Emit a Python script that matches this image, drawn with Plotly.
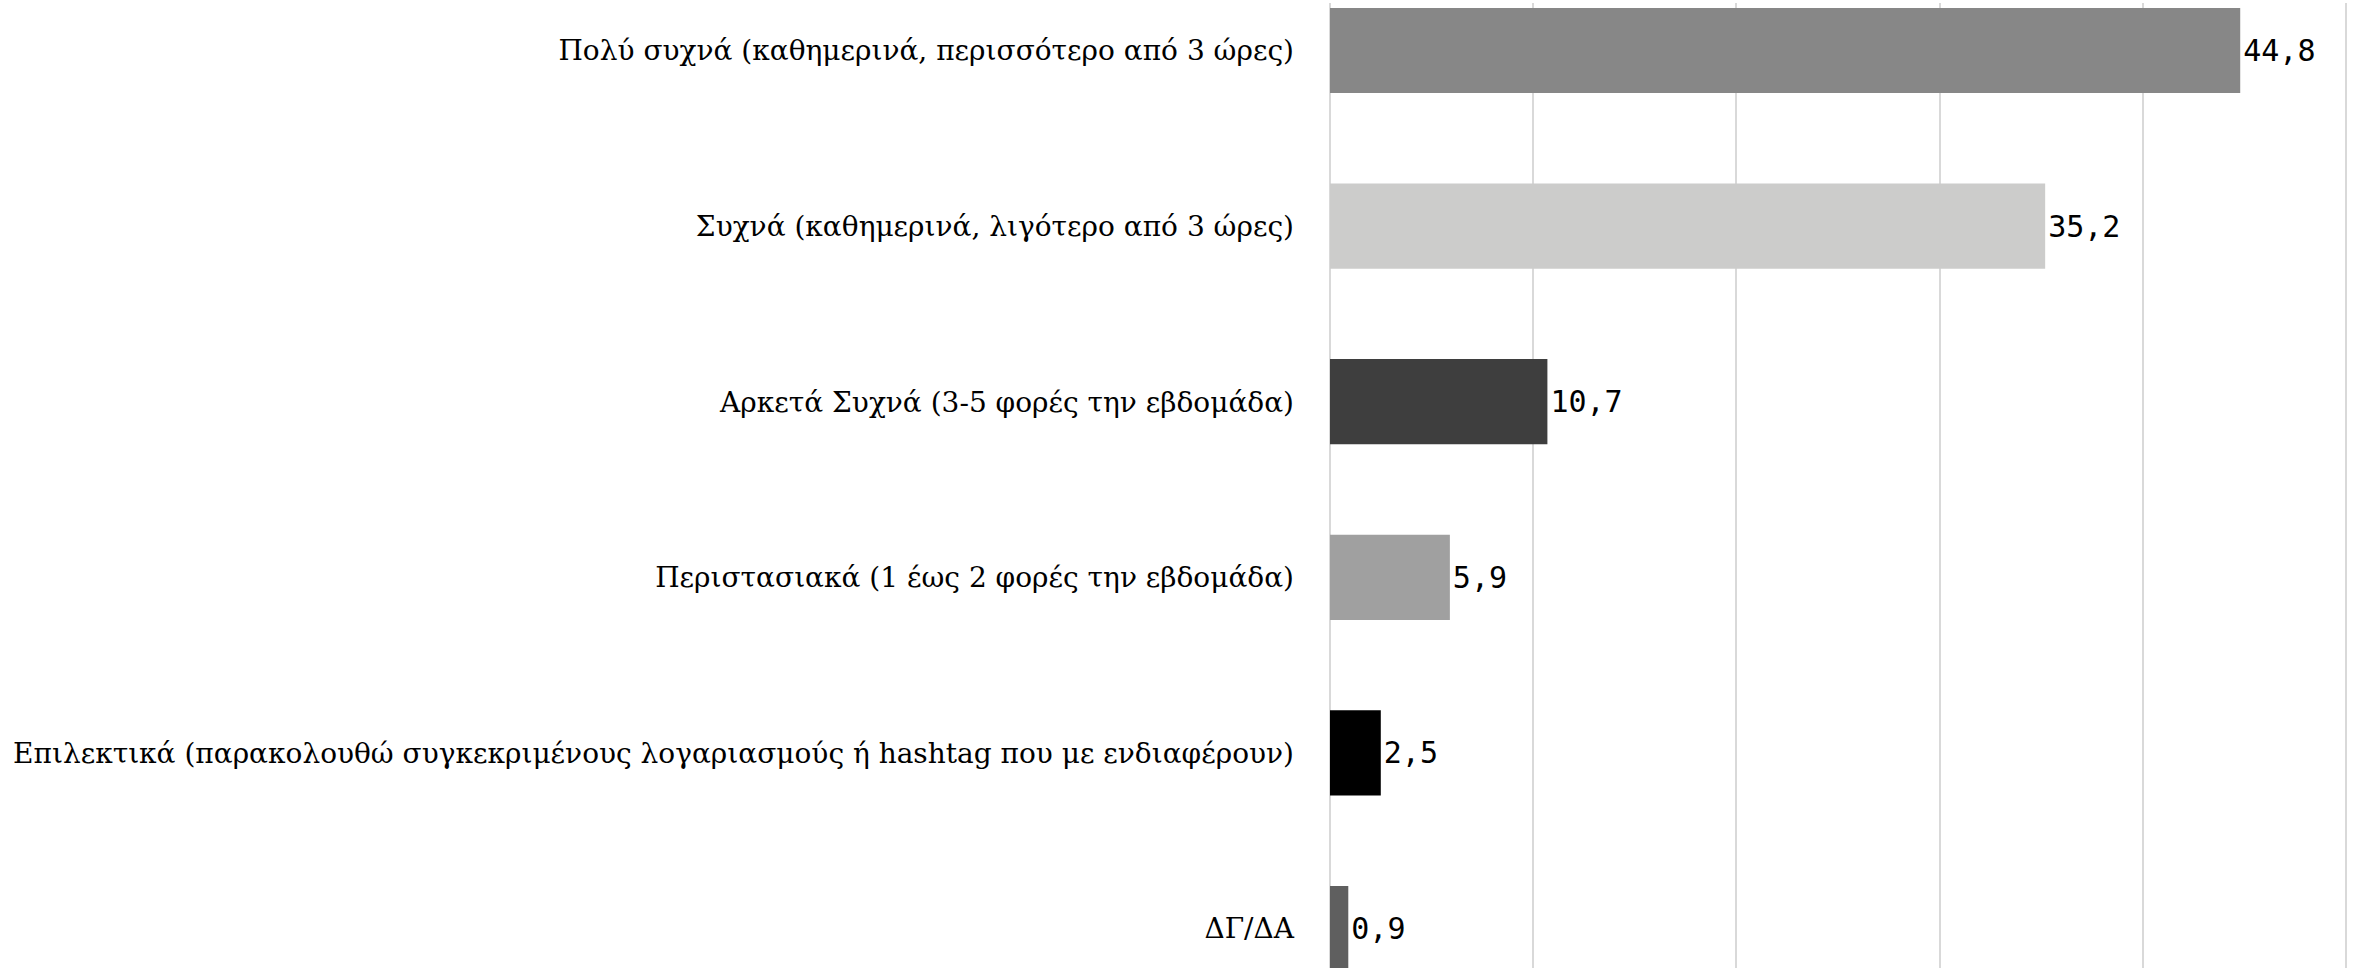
import plotly.graph_objects as go

categories = [
    "Πολύ συχνά (καθημερινά, περισσότερο από 3 ώρες)",
    "Συχνά (καθημερινά, λιγότερο από 3 ώρες)",
    "Αρκετά Συχνά (3-5 φορές την εβδομάδα)",
    "Περιστασιακά (1 έως 2 φορές την εβδομάδα)",
    "Επιλεκτικά (παρακολουθώ συγκεκριμένους λογαριασμούς ή hashtag που με ενδιαφέρουν)",
    "ΔΓ/ΔΑ",
]
values = [44.8, 35.2, 10.7, 5.9, 2.5, 0.9]
colors = ["#878787", "#cccccb", "#3e3e3e", "#a0a0a0", "#000000", "#5f5f5f"]
labels = [f"{v:.1f}".replace(".", ",") for v in values]

fig = go.Figure(
    go.Bar(
        x=values,
        y=categories,
        orientation="h",
        marker=dict(color=colors, line=dict(width=0)),
        width=0.485,
        text=labels,
        textposition="outside",
        textfont=dict(family="DejaVu Sans Mono", size=30, color="#000000"),
        cliponaxis=False,
        hoverinfo="skip",
    )
)

fig.update_layout(
    width=2354,
    height=968,
    margin=dict(l=1330, r=0, t=3, b=0, autoexpand=False),
    paper_bgcolor="white",
    plot_bgcolor="white",
    showlegend=False,
    xaxis=dict(
        range=[0, 50.4],
        dtick=10,
        tick0=0,
        showgrid=True,
        gridcolor="#d9d9d9",
        gridwidth=2,
        zeroline=True,
        zerolinecolor="#d9d9d9",
        zerolinewidth=2,
        showticklabels=False,
        ticks="",
        showline=False,
    ),
    yaxis=dict(
        type="category",
        categoryorder="array",
        categoryarray=categories,
        range=[5.225, -0.2705],
        showgrid=False,
        zeroline=False,
        showline=False,
        ticks="",
        ticklabelstandoff=35,
        tickfont=dict(family="DejaVu Serif", size=28, color="#000000"),
        automargin=False,
    ),
)

fig.write_html(
    "out.html",
    config={"displayModeBar": False},
    post_script="document.body.style.margin='0px';",
)
